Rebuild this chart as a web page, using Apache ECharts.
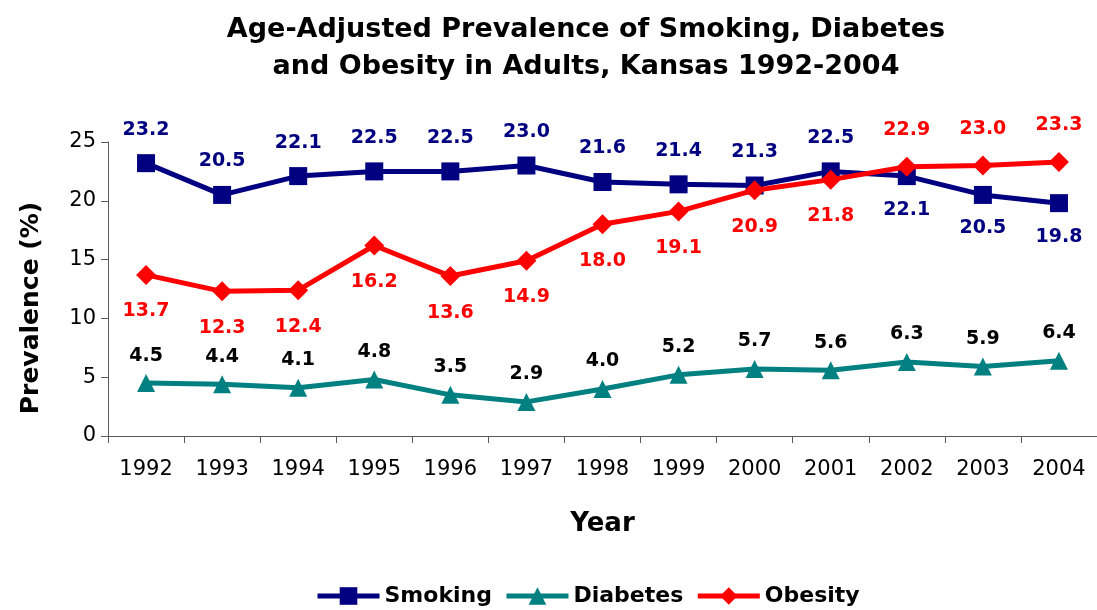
<!DOCTYPE html>
<html>
<head>
<meta charset="utf-8">
<script src="https://cdn.jsdelivr.net/npm/echarts@6/dist/echarts.min.js"></script>
<style>
html,body{margin:0;padding:0;background:#fff;}
#chart{width:1097px;height:610px;}
</style>
</head>
<body>
<div id="chart"></div>
<script>
// Kansas adult prevalence (%) by year
const years = ['1992','1993','1994','1995','1996','1997','1998','1999','2000','2001','2002','2003','2004'];
const smoking  = [23.2, 20.5, 22.1, 22.5, 22.5, 23.0, 21.6, 21.4, 21.3, 22.5, 22.1, 20.5, 19.8];
const diabetes = [4.5, 4.4, 4.1, 4.8, 3.5, 2.9, 4.0, 5.2, 5.7, 5.6, 6.3, 5.9, 6.4];
const obesity  = [13.7, 12.3, 12.4, 16.2, 13.6, 14.9, 18.0, 19.1, 20.9, 21.8, 22.9, 23.0, 23.3];
// where each value label sits relative to its point
const smokingLabelPos = ['top','top','top','top','top','top','top','top','top','top','bottom','bottom','bottom'];
const obesityLabelPos = ['bottom','bottom','bottom','bottom','bottom','bottom','bottom','bottom','bottom','bottom','top','top','top'];

const FONT = '"DejaVu Sans", "Liberation Sans", Arial, sans-serif';
const NAVY = '#000080', TEAL = '#008080', RED = '#ff0000';
const AXIS_GREY = '#5a5a5a';

function withLabels(values, positions) {
  return values.map((v, i) => ({ value: v, label: { position: positions[i] } }));
}

const labelBase = (color, dist) => ({
  show: true,
  color: color,
  fontFamily: FONT,
  fontWeight: 'bold',
  fontSize: 19,
  distance: dist,
  formatter: p => p.value.toFixed(1)
});

const chart = echarts.init(document.getElementById('chart'), null, { renderer: 'canvas' });
chart.setOption({
  animation: false,
  backgroundColor: '#fff',
  title: {
    text: 'Age-Adjusted Prevalence of Smoking, Diabetes\nand Obesity in Adults, Kansas 1992-2004',
    left: 581,
    textAlign: 'center',
    top: 6,
    textStyle: { fontFamily: FONT, fontWeight: 'bold', fontSize: 27, lineHeight: 37, color: '#000' }
  },
  legend: {
    top: 580,
    left: 310,
    itemWidth: 62,
    itemHeight: 22,
    itemGap: 12,
    lineStyle: { width: 5 },
    textStyle: { fontFamily: FONT, fontWeight: 'bold', fontSize: 22, color: '#000' },
    data: ['Smoking', 'Diabetes', 'Obesity']
  },
  grid: { left: 108, top: 142, width: 991, height: 294, containLabel: false },
  xAxis: {
    type: 'category',
    data: years,
    boundaryGap: true,
    name: 'Year',
    nameLocation: 'middle',
    nameGap: 75,
    nameTextStyle: { fontFamily: FONT, fontWeight: 'bold', fontSize: 26, color: '#000' },
    axisLine: { lineStyle: { color: AXIS_GREY, width: 1 } },
    axisTick: { show: true, length: 7, lineStyle: { color: AXIS_GREY } },
    axisLabel: { fontFamily: FONT, fontSize: 21, color: '#000', margin: 23 },
    splitLine: { show: false }
  },
  yAxis: {
    type: 'value',
    min: 0,
    max: 25,
    interval: 5,
    name: 'Prevalence (%)',
    nameLocation: 'middle',
    nameGap: 64,
    nameRotate: 90,
    nameTextStyle: { fontFamily: FONT, fontWeight: 'bold', fontSize: 25, color: '#000', padding: [0, 38, 0, 0] },
    axisLine: { show: true, lineStyle: { color: AXIS_GREY, width: 1 } },
    axisTick: { show: true, length: 7, lineStyle: { color: AXIS_GREY } },
    axisLabel: { fontFamily: FONT, fontSize: 21, color: '#000', margin: 12 },
    splitLine: { show: false }
  },
  series: [
    {
      name: 'Smoking',
      type: 'line',
      data: withLabels(smoking, smokingLabelPos),
      color: NAVY,
      lineStyle: { width: 5, color: NAVY },
      symbol: 'rect',
      symbolSize: 18,
      itemStyle: { color: NAVY },
      label: labelBase(NAVY, 15),
      z: 3
    },
    {
      name: 'Diabetes',
      type: 'line',
      data: diabetes,
      color: TEAL,
      lineStyle: { width: 5, color: TEAL },
      symbol: 'triangle',
      symbolSize: 18,
      itemStyle: { color: TEAL },
      label: Object.assign(labelBase('#000', 9), { position: 'top' }),
      z: 2
    },
    {
      name: 'Obesity',
      type: 'line',
      data: withLabels(obesity, obesityLabelPos),
      color: RED,
      lineStyle: { width: 5, color: RED },
      symbol: 'diamond',
      symbolSize: 20,
      itemStyle: { color: RED },
      label: labelBase(RED, 17),
      z: 4
    }
  ]
});
</script>
</body>
</html>
